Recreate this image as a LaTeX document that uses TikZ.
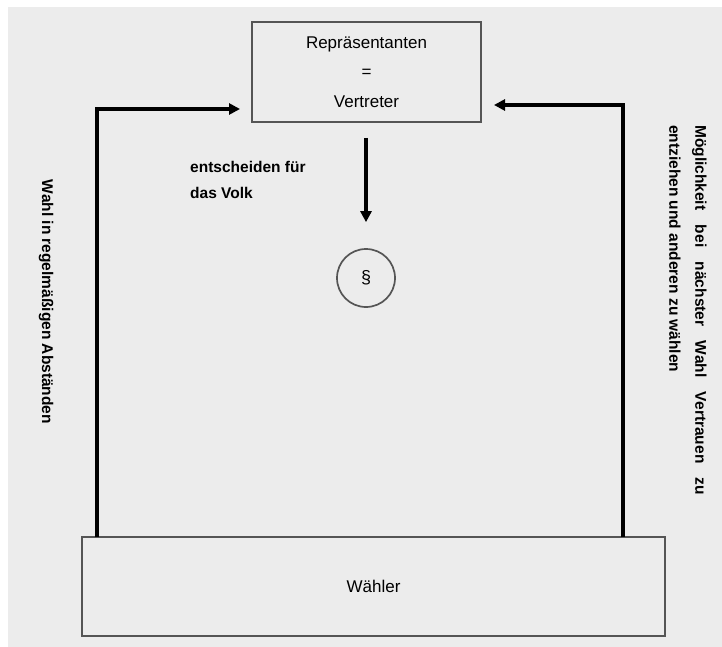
\documentclass[tikz,border=0pt]{standalone}
\usepackage{fontspec}
\setmainfont{Liberation Sans}
\usetikzlibrary{arrows.meta}
\definecolor{bggray}{HTML}{ECECEC}
\definecolor{boxgray}{HTML}{555555}
\begin{document}
\begin{tikzpicture}[x=1pt,y=-1pt,
  boxnode/.style={draw=boxgray,line width=1.8pt,fill=bggray,inner sep=0pt,align=center,
    font=\fontsize{17}{29.5}\selectfont},
  boldlabel/.style={inner sep=0pt,font=\bfseries\fontsize{15.5}{26}\selectfont},
  conn/.style={line width=3.2pt,-{Triangle[length=11pt,width=11pt]}}]
\useasboundingbox (0,0) rectangle (722,647);
\fill[white] (0,0) rectangle (722,647);
\fill[bggray] (8,7) rectangle (722,647);
\node[boxnode,minimum width=229pt,minimum height=100pt] (rep) at (366.5,72)
  {Repräsentanten\\=\\Vertreter};
\node[boxnode,minimum width=583pt,minimum height=99pt] (waehler) at (373.5,586.5) {Wähler};
\node[draw=boxgray,line width=1.7pt,circle,minimum size=58pt,inner sep=0pt,
  font=\fontsize{18}{20}\selectfont] (para) at (366,278) {§};
\node[boldlabel,align=left,anchor=west] (ent) at (190,180) {entscheiden für\\das Volk};
\node[boldlabel,rotate=-90] (wahl) at (46,302) {Wahl in regelmäßigen Abständen};
\node[boldlabel,rotate=-90,align=left,anchor=west] (moegl) at (688,125)
  {\makebox[370pt][s]{Möglichkeit bei nächster Wahl Vertrauen zu}\\entziehen und anderen zu wählen};
\coordinate (lbot) at (97,537);
\coordinate (ltop) at (240,109);
\coordinate (rbot) at (623,537);
\coordinate (rtop) at (494,105);
\draw[conn] (lbot) |- (ltop);
\draw[conn] (rbot) |- (rtop);
\draw[conn,shorten <=15pt,shorten >=26pt] (rep.south -| para.north) -- (para.north);
\end{tikzpicture}
\end{document}
